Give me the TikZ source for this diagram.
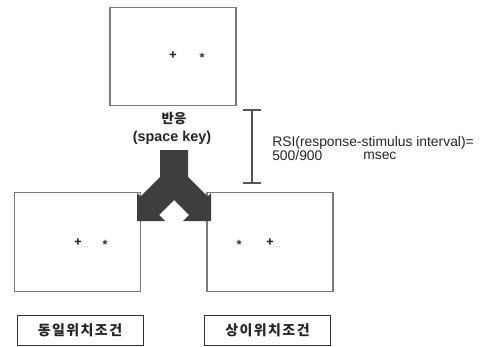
\documentclass[tikz,border=0pt]{standalone}
\usepackage{fontspec}
\setmainfont{Noto Sans CJK KR}
\newfontfamily\latinfont{Liberation Sans}
\newfontfamily\lblfont[LetterSpace=10]{Noto Sans CJK KR}
\definecolor{framegray}{HTML}{7A7A7A}
\definecolor{arrowgray}{HTML}{3E3E3E}
\definecolor{bargray}{HTML}{555555}
\begin{document}
\begin{tikzpicture}[x=0.75pt,y=-0.75pt,
  screen/.style={draw=framegray,line width=0.9pt,minimum width=94.5pt,minimum height=74pt,inner sep=0pt},
  lblbox/.style={draw=black!80,line width=0.75pt,minimum width=94.5pt,minimum height=22.5pt,inner sep=0pt,font=\lblfont\fontsize{10.5pt}{12pt}\selectfont\bfseries,text=black!85},
  fix/.style={inner sep=0pt,font=\fontsize{9pt}{9pt}\selectfont\bfseries,text=black!85},
  stim/.style={inner sep=0pt,font=\fontsize{8.5pt}{8pt}\selectfont\bfseries,text=black!75},
  txt/.style={inner sep=0pt,font=\latinfont\fontsize{10.4pt}{12pt}\selectfont,text=black!85,anchor=west}]
\useasboundingbox (0,0) rectangle (481,346);
\fill[white] (0,0) rectangle (481,346);
% screens
\node[screen] (top) at (173,56.5) {};
\node[screen] (left) at (77.5,242) {};
\node[screen] (right) at (270,242) {};
% stimuli
\node[fix] (tf) at (173,56) {+};
\node[stim] (ts) at (202,57.5) {*};
\node[fix] (lf) at (78,243) {+};
\node[stim] (ls) at (105,244.5) {*};
\node[stim] (rs) at (239,244.5) {*};
\node[fix] (rf) at (270,243) {+};
% response label
\node[inner sep=0pt,font=\fontsize{10pt}{11pt}\selectfont\bfseries,text=black!85] (resp) at (174,119) {반응};
\node[inner sep=0pt,font=\latinfont\fontsize{10.8pt}{12pt}\selectfont\bfseries,text=black!85] (key) at (172,138) {(space key)};
% RSI bar
\coordinate (rsiT) at (252,110);
\coordinate (rsiB) at (252,183);
\draw[bargray,line width=1.1pt] (rsiT) -- (rsiB);
\draw[bargray,line width=1.1pt] (243,110) -- (261,110);
\draw[bargray,line width=1.1pt] (243,183) -- (261,183);
\node[txt] (rsi1) at (272,142.5) {RSI(response-stimulus interval)=};
\node[txt] (rsi2) at (272,155.5) {500/900};
\node[txt] (rsi3) at (363,155.5) {msec};
% split arrow
\fill[arrowgray] (160,150) -- (160,177) -- (140.5,196.5) -- (137,193) -- (137,221) -- (165,221) -- (159,215) -- (174,200) -- (189,215) -- (183,221) -- (211,221) -- (211,193) -- (207.5,196.5) -- (188,177) -- (188,150) -- cycle;
% condition labels
\node[lblbox] (l1) at (80,330) {동일위치조건};
\node[lblbox] (l2) at (267.5,330) {상이위치조건};
\end{tikzpicture}
\end{document}
